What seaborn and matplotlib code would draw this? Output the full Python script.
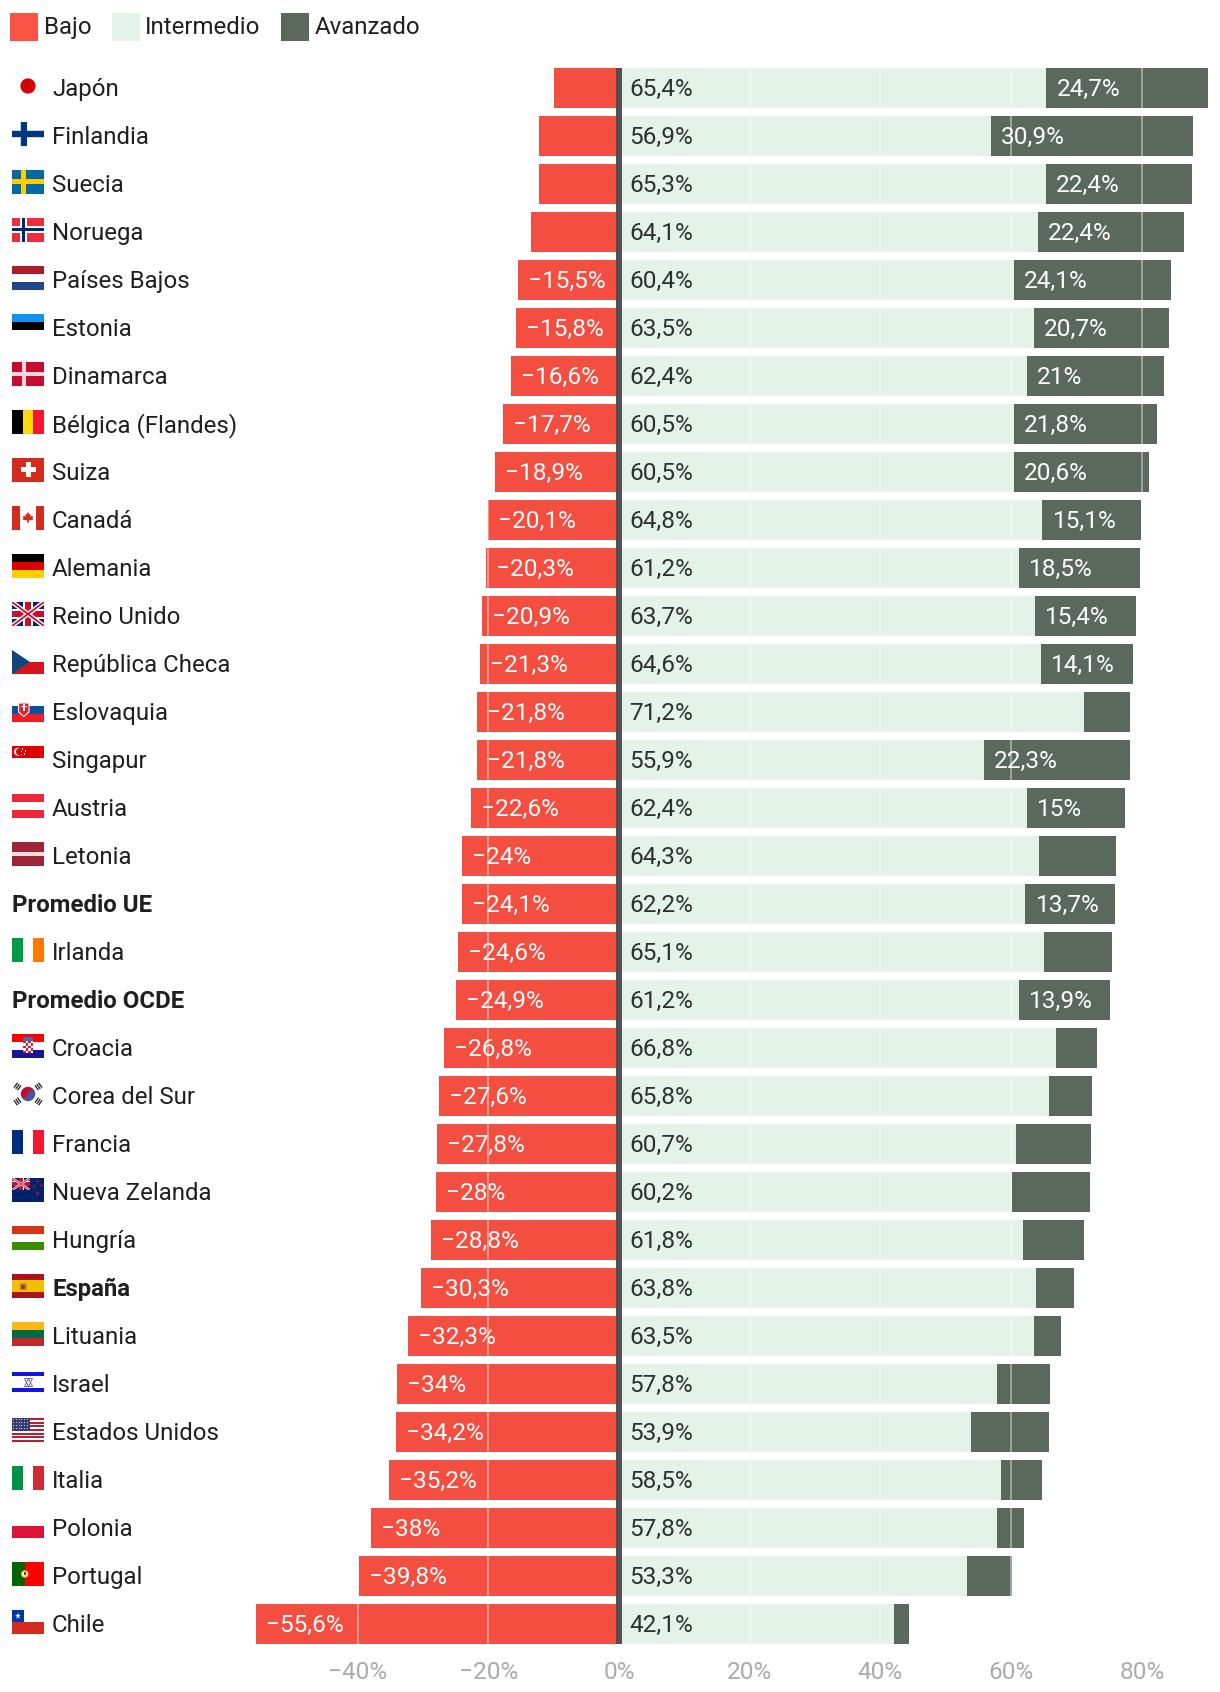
import numpy as np
import pandas as pd
import seaborn as sns
import matplotlib.pyplot as plt
from matplotlib.patches import Rectangle, Circle, Wedge, Polygon, Patch

paises = ['Japón', 'Finlandia', 'Suecia', 'Noruega', 'Países Bajos', 'Estonia', 'Dinamarca',
          'Bélgica (Flandes)', 'Suiza', 'Canadá', 'Alemania', 'Reino Unido', 'República Checa',
          'Eslovaquia', 'Singapur', 'Austria', 'Letonia', 'Promedio UE', 'Irlanda', 'Promedio OCDE',
          'Croacia', 'Corea del Sur', 'Francia', 'Nueva Zelanda', 'Hungría', 'España', 'Lituania',
          'Israel', 'Estados Unidos', 'Italia', 'Polonia', 'Portugal', 'Chile']
bajo = [-9.9, -12.2, -12.3, -13.5, -15.5, -15.8, -16.6, -17.7, -18.9, -20.1, -20.3, -20.9, -21.3,
        -21.8, -21.8, -22.6, -24, -24.1, -24.6, -24.9, -26.8, -27.6, -27.8, -28, -28.8, -30.3,
        -32.3, -34, -34.2, -35.2, -38, -39.8, -55.6]
intermedio = [65.4, 56.9, 65.3, 64.1, 60.4, 63.5, 62.4, 60.5, 60.5, 64.8, 61.2, 63.7, 64.6, 71.2,
              55.9, 62.4, 64.3, 62.2, 65.1, 61.2, 66.8, 65.8, 60.7, 60.2, 61.8, 63.8, 63.5, 57.8,
              53.9, 58.5, 57.8, 53.3, 42.1]
avanzado = [24.7, 30.9, 22.4, 22.4, 24.1, 20.7, 21, 21.8, 20.6, 15.1, 18.5, 15.4, 14.1, 7, 22.3,
            15, 11.7, 13.7, 10.3, 13.9, 6.4, 6.6, 11.5, 11.8, 9.4, 5.9, 4.2, 8.2, 11.9, 6.3, 4.2,
            6.9, 2.3]
ticks = [-40, -20, 0, 20, 40, 60, 80]
negritas = ['Promedio UE', 'Promedio OCDE', 'España']

ROJO = '#F44E41'
VERDE = '#E4F3E7'
OSCURO = '#5B695C'
TEXTO = '#1F1F1F'
FS = 17.3
FS_DATOS = 17.6
PX = 0.72  # points per pixel at dpi 100

sns.set_theme(style='white')
plt.rcParams['font.family'] = ['Roboto', 'DejaVu Sans']

df = pd.DataFrame({'pais': paises, 'bajo': bajo, 'intermedio': intermedio, 'avanzado': avanzado})


def etiqueta(v):
    return f'{abs(v):g}'.replace('.', ',') + '%'


fig = plt.figure(figsize=(12.2, 16.92), dpi=100)

# axes for the bars: 619 px is zero, 6.535 px per point, rows every 48 px
ax = fig.add_axes([0, 40 / 1692, 1, 1592 / 1692])
ancho = 40 / 48
sns.barplot(data=df, y='pais', x='bajo', orient='h', color=ROJO, saturation=1, width=ancho,
            linewidth=0, ax=ax)
sns.barplot(data=df, y='pais', x='intermedio', orient='h', color=VERDE, saturation=1, width=ancho,
            linewidth=0, ax=ax)
sns.barplot(data=df, y='pais', x='avanzado', orient='h', color=OSCURO, saturation=1, width=ancho,
            linewidth=0, left=df['intermedio'].values, ax=ax)

ax.set_xlim(-619 / 6.535, (1220 - 619) / 6.535)
ax.set_ylim(32 + 28 / 48, -28 / 48)
ax.set_xlabel('')
ax.set_ylabel('')
ax.set_yticks([])
ax.set_xticks(ticks)
ax.set_xticklabels([('−' if t < 0 else '') + f'{abs(t)}%' for t in ticks])
ax.tick_params(axis='x', length=0, labelsize=FS_DATOS, labelcolor='#ABABAB', pad=6.5)
sns.despine(ax=ax, left=True, bottom=True)
ax.grid(axis='x', color='white', alpha=0.4, lw=2 * PX)
ax.set_axisbelow(False)
ax.vlines(0, -ancho / 2, 32 + ancho / 2, color='#4C4C4C', lw=6 * PX, alpha=0.97, zorder=5)


def rotulo(x, fila, texto, color):
    ax.annotate(texto, xy=(x, fila), xytext=(10 * PX, -8 * PX), textcoords='offset points',
                color=color, fontsize=FS_DATOS, va='baseline', ha='left', zorder=6)


for i in range(len(paises)):
    if bajo[i] <= -15:
        rotulo(bajo[i], i, '−' + etiqueta(bajo[i]), 'white')
    rotulo(0, i, etiqueta(intermedio[i]), '#303030')
    if avanzado[i] >= 13:
        rotulo(intermedio[i], i, etiqueta(avanzado[i]), 'white')

# legend
handles = [Patch(facecolor='#FA5244', lw=0), Patch(facecolor=VERDE, lw=0), Patch(facecolor=OSCURO, lw=0)]
leyenda = fig.legend(handles, ['Bajo', 'Intermedio', 'Avanzado'], ncol=3, loc='upper left',
                     bbox_to_anchor=(10 / 1220, 1 - 13 / 1692), frameon=False, fontsize=FS, labelcolor=TEXTO,
                     handlelength=28 * PX / FS, handleheight=1.416, handletextpad=0.23,
                     columnspacing=0.86, borderpad=0, borderaxespad=0)
for t in leyenda.get_texts():
    t.set_y(1)

# overlay in pixel coordinates for the country names and the flags
pa = fig.add_axes([0, 0, 1, 1], facecolor='none')
pa.set_xlim(0, 1220)
pa.set_ylim(1692, 0)
pa.axis('off')


def rect(x, y, w, h, color, **kw):
    r = Rectangle((x, y), w, h, facecolor=color, lw=0, **kw)
    pa.add_patch(r)
    return r


def franjas(c, colores, vertical=False):
    n = len(colores)
    for k, col in enumerate(colores):
        if vertical:
            rect(12 + k * 32 / n, c - 14, 32 / n, 24, col)
        else:
            rect(12, c - 14 + k * 24 / n, 32, 24 / n, col)


def cruz(c, cx, gv, gh, col):
    rect(cx - gv / 2, c - 14, gv, 24, col)
    rect(12, c - 2 - gh / 2, 32, gh, col)


def union_jack(x, y, w, h, esc=1.0):
    caja = rect(x, y, w, h, '#012169')
    for a, b, lw, col in [((x, y), (x + w, y + h), 4.2, 'white'), ((x, y + h), (x + w, y), 4.2, 'white'),
                          ((x, y), (x + w, y + h), 1.6, '#C8102E'), ((x, y + h), (x + w, y), 1.6, '#C8102E')]:
        ln, = pa.plot([a[0], b[0]], [a[1], b[1]], color=col, lw=lw * esc * PX * 1.1, solid_capstyle='butt')
        ln.set_clip_path(caja)
    rect(x + w / 2 - 5 * esc, y, 10 * esc, h, 'white')
    rect(x, y + h / 2 - 5 * esc, w, 10 * esc, 'white')
    rect(x + w / 2 - 3.2 * esc, y, 6.4 * esc, h, '#C8102E')
    rect(x, y + h / 2 - 3.2 * esc, w, 6.4 * esc, '#C8102E')


def marca(x, y, m, s, col, **kw):
    pa.plot([x], [y], marker=m, ms=s * PX, color=col, mew=0, ls='none', **kw)


def bandera(nombre, c):
    cm = c - 2
    if nombre == 'Japón':
        pa.add_patch(Circle((28, cm), 7.6, color='#D40000', lw=0))
    elif nombre == 'Finlandia':
        rect(20, c - 14, 7, 24, '#C9D3E6')
        rect(12, cm - 4, 32, 8, '#C9D3E6')
        cruz(c, 23.5, 6, 6.5, '#003580')
    elif nombre == 'Suecia':
        franjas(c, ['#006AA7'])
        cruz(c, 23.5, 5, 5, '#FECC00')
    elif nombre == 'Noruega':
        franjas(c, ['#EF2B3D'])
        cruz(c, 23.5, 7, 7, 'white')
        cruz(c, 23.5, 3, 3, '#002868')
    elif nombre == 'Países Bajos':
        franjas(c, ['#AE1C28', 'white', '#21468B'])
    elif nombre == 'Estonia':
        franjas(c, ['#0F91F5', 'black', 'white'])
    elif nombre == 'Dinamarca':
        franjas(c, ['#C60C30'])
        cruz(c, 24, 3.5, 3.5, '#F3D5DB')
    elif nombre == 'Bélgica (Flandes)':
        franjas(c, ['black', '#FFD90C', '#F31830'], True)
    elif nombre == 'Suiza':
        franjas(c, ['#D52B1E'])
        rect(25.5, cm - 7.5, 5, 15, 'white')
        rect(20.5, cm - 2.5, 15, 5, 'white')
    elif nombre == 'Canadá':
        rect(12, c - 14, 7.6, 24, '#D52B1E')
        rect(36.4, c - 14, 7.6, 24, '#D52B1E')
        hoja = np.array([[0, -6], [1.4, -3.6], [2.6, -4], [2.2, -1.2], [3.8, -2.4], [5.4, -0.6], [4.4, 0.4], [5.4, 1.8],
                         [0.9, 2.4], [0.5, 5], [-0.5, 5], [-0.9, 2.4], [-5.4, 1.8], [-4.4, 0.4], [-5.4, -0.6],
                         [-3.8, -2.4], [-2.2, -1.2], [-2.6, -4], [-1.4, -3.6]])
        pa.add_patch(Polygon(hoja + [28, cm], color='#D52B1E', lw=0))
    elif nombre == 'Alemania':
        franjas(c, ['black', '#DD0000', '#FFCE00'])
    elif nombre == 'Reino Unido':
        union_jack(12, c - 14, 32, 24)
    elif nombre == 'República Checa':
        franjas(c, ['white', '#D7141A'])
        pa.add_patch(Polygon([(12, c - 14), (30, cm), (12, c + 10)], color='#11457E', lw=0))
    elif nombre == 'Eslovaquia':
        franjas(c, ['white', '#0B4EA2', '#EE1C25'])
        pa.add_patch(Polygon([(18.6, c - 9), (29, c - 9), (29, c), (23.8, c + 4.5), (18.6, c)],
                             facecolor='#EE1C25', edgecolor='white', lw=0.8))
        rect(23, c - 8, 1.6, 7, 'white')
        rect(21, c - 6, 5.6, 1.4, 'white')
    elif nombre == 'Singapur':
        franjas(c, ['#E00000', 'white'])
        pa.add_patch(Circle((18, c - 8.3), 4, color='white', lw=0))
        pa.add_patch(Circle((19.6, c - 8.3), 3.6, color='#E00000', lw=0))
        for dx, dy in [(22, -11.5), (25, -9.5), (24, -6.5), (20.5, -6), (20.5, -9)]:
            rect(dx, c + dy, 1.2, 1.2, 'white')
    elif nombre == 'Austria':
        franjas(c, ['#ED2939', 'white', '#ED2939'])
    elif nombre == 'Letonia':
        rect(12, c - 14, 32, 10, '#9E2438')
        rect(12, cm - 2, 32, 4, '#F3DDE0')
        rect(12, c, 32, 10, '#9E2438')
    elif nombre == 'Irlanda':
        franjas(c, ['#009A49', 'white', '#FF7900'], True)
    elif nombre == 'Croacia':
        franjas(c, ['#FF0000', 'white', '#171796'])
        rect(23, c - 11, 10, 4, '#3A6FB0')
        for a in range(4):
            for b in range(5):
                rect(23 + a * 2.5, c - 7 + b * 2.5, 2.5, 2.5, '#E8192C' if (a + b) % 2 == 0 else 'white')
    elif nombre == 'Corea del Sur':
        pa.add_patch(Wedge((28, cm), 7.2, 180, 360, color='#C60C30', lw=0))
        pa.add_patch(Wedge((28, cm), 7.2, 0, 180, color='#3D5A9E', lw=0))
        pa.add_patch(Circle((24.4, cm), 3.6, color='#C60C30', lw=0))
        pa.add_patch(Circle((31.6, cm), 3.6, color='#3D5A9E', lw=0))
        for sx, sy in [(-1, -1), (1, -1), (-1, 1), (1, 1)]:
            d = np.array([sx * 10.5, sy * 7.5])
            u = d / np.hypot(*d)
            n = np.array([-u[1], u[0]])
            for off in [-2.2, 0, 2.2]:
                p = np.array([28, cm]) + d + u * off
                pa.plot([p[0] - n[0] * 3, p[0] + n[0] * 3], [p[1] - n[1] * 3, p[1] + n[1] * 3],
                        color='#222222', lw=1.3 * PX, solid_capstyle='butt')
    elif nombre == 'Francia':
        franjas(c, ['#002B7F', 'white', '#F31830'], True)
    elif nombre == 'Nueva Zelanda':
        franjas(c, ['#012169'])
        union_jack(12, c - 14, 18, 12, 0.5)
        for dx, dy, s in [(37, -11, 4), (40.5, -7, 4), (33.5, -6, 4), (37, 1, 5)]:
            marca(dx, c + dy, '*', s, '#C8102E')
    elif nombre == 'Hungría':
        franjas(c, ['#D43516', 'white', '#388D00'])
    elif nombre == 'España':
        rect(12, c - 14, 32, 6, '#AA151B')
        rect(12, c - 8, 32, 12, '#F1BF00')
        rect(12, c + 4, 32, 6, '#AA151B')
        rect(19.5, c - 5, 7, 7, '#C98A3A')
        rect(21, c - 3, 4, 4, '#A8331C')
    elif nombre == 'Lituania':
        franjas(c, ['#FDB913', '#006A44', '#C1272D'])
    elif nombre == 'Israel':
        rect(12, c - 12, 32, 4, '#1414E0')
        rect(12, c + 4, 32, 4, '#1414E0')
        for m in ['^', 'v']:
            pa.plot([28], [cm], marker=m, ms=8 * PX, mfc='none', mec='#3030E0', mew=0.5, ls='none')
    elif nombre == 'Estados Unidos':
        for k in range(13):
            rect(12, c - 14 + k * 24 / 13, 32, 24 / 13, '#B22234' if k % 2 == 0 else 'white')
        rect(12, c - 14, 18, 13, '#3C3B6E')
        for a in range(6):
            for b in range(4):
                rect(13 + a * 2.8, c - 13 + b * 3, 0.9, 0.9, '#C8CADF')
    elif nombre == 'Italia':
        franjas(c, ['#009246', 'white', '#CE2B37'], True)
    elif nombre == 'Polonia':
        franjas(c, ['white', '#DC143C'])
    elif nombre == 'Portugal':
        rect(12, c - 14, 12.8, 24, '#006600')
        rect(24.8, c - 14, 19.2, 24, '#FF0000')
        pa.add_patch(Circle((24.8, cm), 3.8, color='#D8C030', lw=0))
        pa.add_patch(Circle((24.8, cm), 2.6, color='white', lw=0))
        rect(23.6, cm - 1.8, 2.4, 3.2, '#D01010')
    elif nombre == 'Chile':
        franjas(c, ['white', '#D52B1E'])
        rect(12, c - 14, 12, 12, '#0039A6')
        marca(18, c - 8, '*', 7, 'white')


for i, nombre in enumerate(paises):
    c = 88 + 48 * i
    peso = 'bold' if nombre in negritas else 'normal'
    x = 12 if nombre.startswith('Promedio') else 52
    pa.text(x, c + 8, nombre, fontsize=FS, color=TEXTO, fontweight=peso, va='baseline', ha='left')
    if not nombre.startswith('Promedio'):
        bandera(nombre, c)

fig.savefig('out.png', dpi=100)
